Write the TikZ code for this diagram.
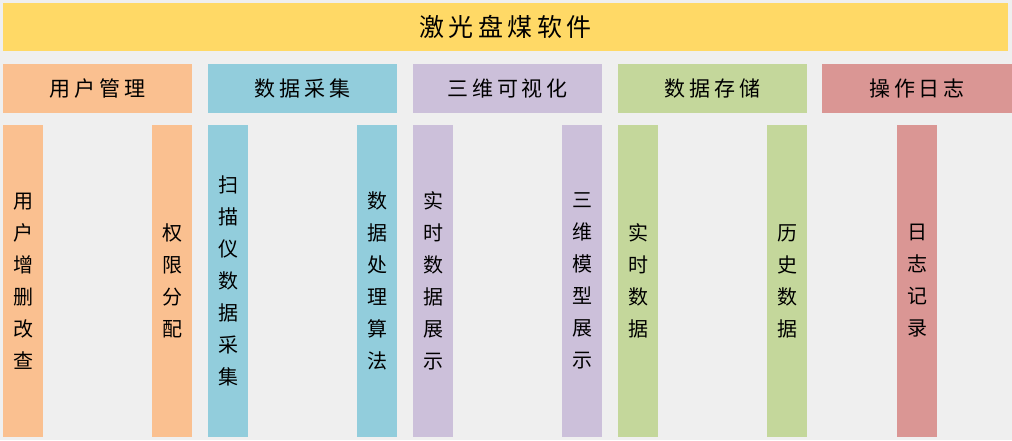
\documentclass[tikz,border=0pt]{standalone}
\usepackage{fontspec}
\usepackage{tikz}
\usetikzlibrary{positioning}
\newfontfamily\cjk{Noto Sans CJK SC}
\newfontfamily\cjkwide[LetterSpace=18]{Noto Sans CJK SC}
\definecolor{LaserBack}{HTML}{EFEFEF}
\definecolor{LaserGold}{HTML}{FFD966}
\definecolor{LaserPeach}{HTML}{FAC090}
\definecolor{LaserBlue}{HTML}{92CDDC}
\definecolor{LaserLilac}{HTML}{CCC0DA}
\definecolor{LaserSage}{HTML}{C4D79B}
\definecolor{LaserRose}{HTML}{DA9694}

\begin{document}
\begin{tikzpicture}[
  x=1pt,y=-1pt,
  node distance=12pt and 15pt,
  plate/.style={anchor=north west,inner sep=0pt,outer sep=0pt,text=black},
  banner/.style={plate,fill=LaserGold,minimum width=1005pt,minimum height=48pt,font=\cjkwide\fontsize{25}{28}\selectfont},
  group/.style={plate,minimum width=189pt,minimum height=49pt,font=\cjkwide\fontsize{21}{24}\selectfont},
  pillar/.style={plate,minimum width=40pt,minimum height=312pt,align=center,font=\cjk\fontsize{20}{32}\selectfont}
]
  \fill[LaserBack] (0,0) rectangle (1012,440);
  \useasboundingbox (0,0) rectangle (1012,440);

  \node[banner] (title) at (3,3) {激光盘煤软件};

  \node[group,fill=LaserPeach] (user) at (3,64) {用户管理};
  \node[group,fill=LaserBlue,right=16pt of user.north east,anchor=north west] (acq) {数据采集};
  \node[group,fill=LaserLilac,right=16pt of acq.north east,anchor=north west] (vis) {三维可视化};
  \node[group,fill=LaserSage,right=16pt of vis.north east,anchor=north west] (store) {数据存储};
  \node[group,fill=LaserRose,minimum width=190pt,right=15pt of store.north east,anchor=north west] (logs) {操作日志};

  \node[pillar,fill=LaserPeach] (useredit) at (3,125) {用\\户\\增\\删\\改\\查};
  \node[pillar,fill=LaserPeach] (userrole) at (152,125) {权\\限\\分\\配};
  \node[pillar,fill=LaserBlue] (acqscan) at (208,125) {扫\\描\\仪\\数\\据\\采\\集};
  \node[pillar,fill=LaserBlue] (acqcalc) at (357,125) {数\\据\\处\\理\\算\\法};
  \node[pillar,fill=LaserLilac] (visreal) at (413,125) {实\\时\\数\\据\\展\\示};
  \node[pillar,fill=LaserLilac] (vismodel) at (562,125) {三\\维\\模\\型\\展\\示};
  \node[pillar,fill=LaserSage] (storenow) at (618,125) {实\\时\\数\\据};
  \node[pillar,fill=LaserSage] (storepast) at (767,125) {历\\史\\数\\据};
  \node[pillar,fill=LaserRose] (logrec) at (897,125) {日\\志\\记\\录};
\end{tikzpicture}
\end{document}
